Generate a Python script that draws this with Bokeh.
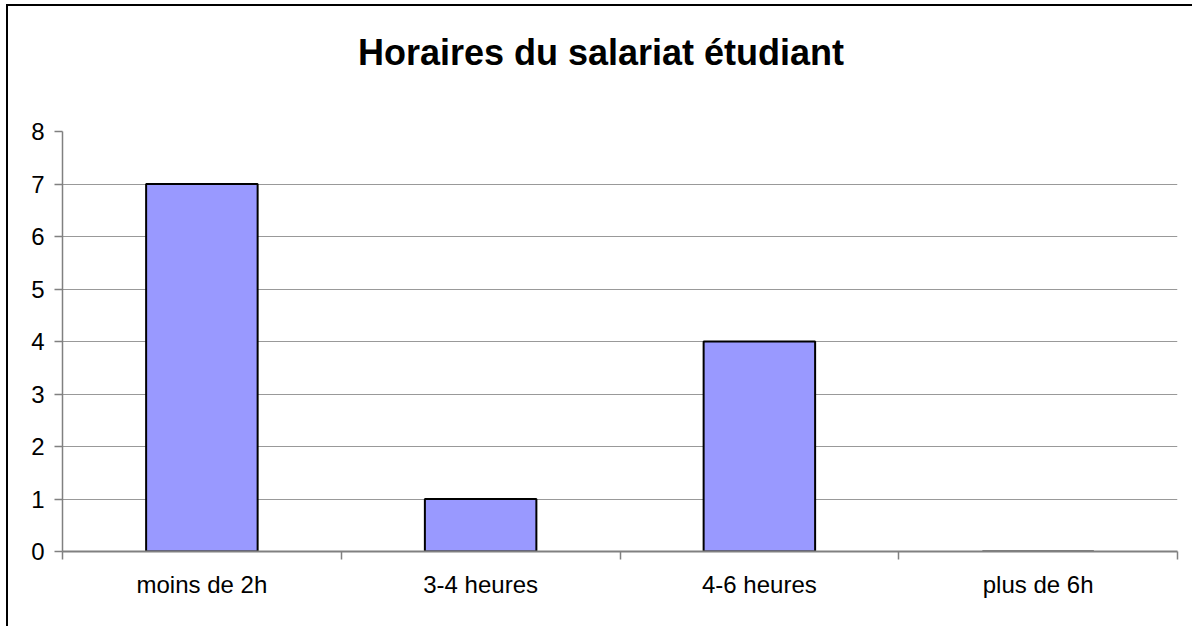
import numpy as np
from bokeh.plotting import figure
from bokeh.layouts import column
from bokeh.models import Range1d, LinearAxis, FixedTicker, Div, ColumnDataSource
from bokeh.embed import file_html
from bokeh.resources import INLINE

categories = ["moins de 2h", "3-4 heures", "4-6 heures", "plus de 6h"]
values = [7, 1, 4, 0]
y_ticks = [0, 1, 2, 3, 4, 5, 6, 7, 8]
title_text = "Horaires du salariat étudiant"

FONT = "Liberation Sans"

n = len(categories)
x_pos = np.arange(n) + 0.5
bounds = list(range(n + 1))

p = figure(width=1182, height=528, output_backend="svg", toolbar_location=None,
           x_range=Range1d(0, n), y_range=Range1d(0, 8),
           x_axis_location=None, y_axis_location=None,
           min_border_left=54, min_border_right=13, min_border_top=33, min_border_bottom=75)
p.outline_line_color = None
p.background_fill_color = "white"
p.border_fill_color = "white"

src = ColumnDataSource(dict(x=x_pos, top=values))
p.vbar(x="x", top="top", bottom=0, width=0.4, source=src,
       fill_color="#9999FF", line_color="black", line_width=2)

# y axis
yax = LinearAxis(ticker=FixedTicker(ticks=y_ticks, minor_ticks=[]))
yax.axis_line_color = "#808080"
yax.axis_line_width = 1.5
yax.major_tick_line_color = "#808080"
yax.major_tick_line_width = 1.5
yax.major_tick_out = 8
yax.major_tick_in = 0
yax.major_label_standoff = 10
yax.major_label_text_font = FONT
yax.major_label_text_font_size = "24px"
yax.major_label_text_color = "black"
p.add_layout(yax, "left")

# x axis: labels at category centres, ticks (minor) at category boundaries
xax = LinearAxis(ticker=FixedTicker(ticks=list(x_pos), minor_ticks=bounds))
xax.major_label_overrides = {float(x): c for x, c in zip(x_pos, categories)}
xax.axis_line_color = "#808080"
xax.axis_line_width = 2
xax.major_tick_line_color = None
xax.major_tick_out = 0
xax.major_tick_in = 0
xax.minor_tick_line_color = "#808080"
xax.minor_tick_line_width = 1.5
xax.minor_tick_out = 8
xax.minor_tick_in = 0
xax.major_label_standoff = 11
xax.major_label_text_font = FONT
xax.major_label_text_font_size = "24px"
xax.major_label_text_color = "black"
p.add_layout(xax, "below")

# grid
p.xgrid.grid_line_color = None
p.ygrid.ticker = FixedTicker(ticks=y_ticks[1:])
p.ygrid.grid_line_color = "#999999"
p.ygrid.grid_line_width = 1

title_div = Div(text=title_text, width=1176, height=82,
                styles={"font-family": FONT, "font-size": "36px", "font-weight": "bold",
                        "text-align": "center", "line-height": "84px", "color": "black"})

layout = column(title_div, p, spacing=0)
layout.styles = {"margin-left": "6px", "margin-top": "4px",
                 "border-left": "2px solid black", "border-top": "2px solid black",
                 "background-color": "white"}

open("out.html", "w").write(file_html(layout, INLINE))
